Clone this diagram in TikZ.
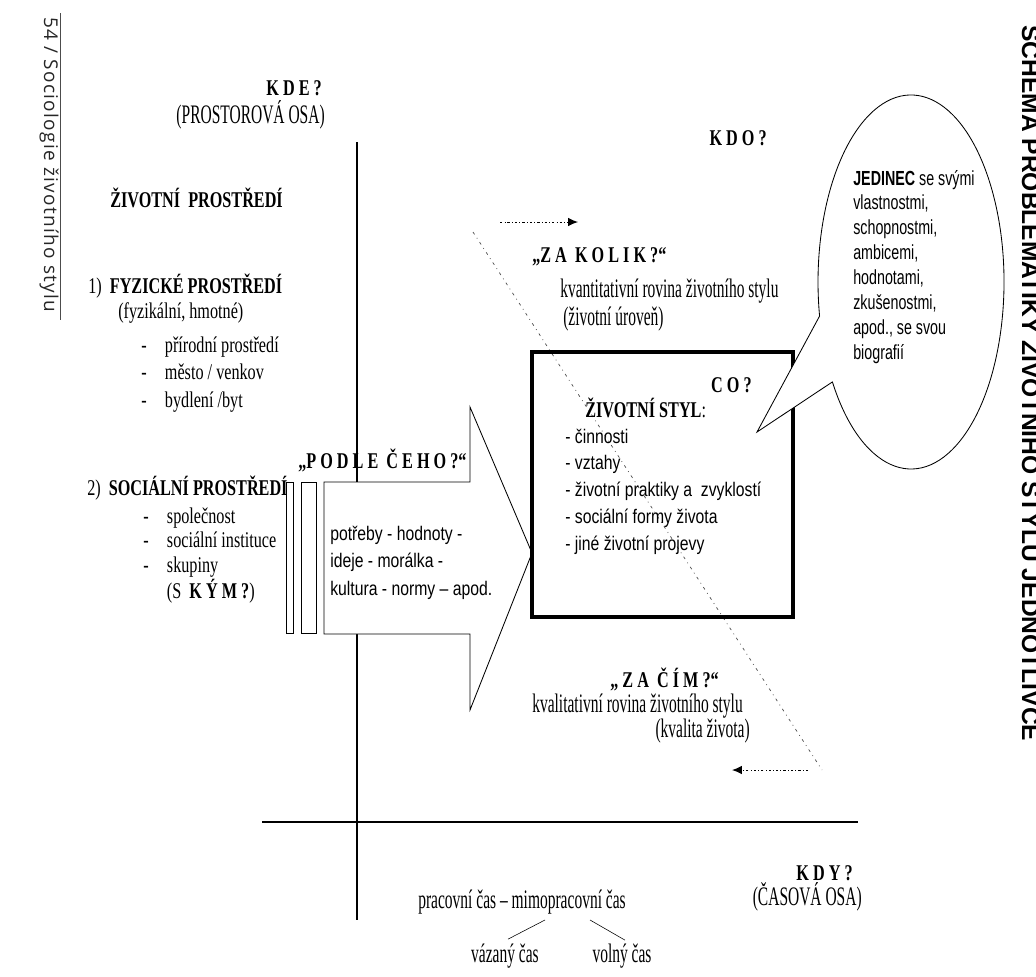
\documentclass[tikz,border=0pt]{standalone}
\usepackage{fontspec}
\setmainfont{Liberation Serif}[FakeStretch=0.72]
\newfontfamily\slimserif{Liberation Serif}[FakeStretch=0.58]
\setsansfont{Liberation Sans}[FakeStretch=0.8]
\newfontfamily\slimsans{Liberation Sans}[FakeStretch=0.7]
\newfontfamily\runfont{Open Sans}[LetterSpace=7]
\newfontfamily\chartfont{Liberation Sans}
\usetikzlibrary{arrows.meta,calc}

\tikzset{
  lbl/.style={font=\fontsize{16}{19.8}\selectfont, inner sep=0pt, anchor=base west},
  lblb/.style={lbl, font=\fontsize{16}{19.8}\selectfont\bfseries},
  slim/.style={lbl, font=\slimserif\fontsize{19}{22}\selectfont},
  itemf/.style={font=\sffamily\fontsize{14}{19.1}\selectfont, inner sep=0pt, anchor=base west},
  trail/.style={gray!60!black, line width=0.5pt, dash pattern=on 2pt off 3pt on 0.6pt off 3pt},
  ray/.style={line width=0.7pt, dash pattern=on 1.6pt off 1.6pt on 0.5pt off 1.6pt, -{Latex[length=7pt,width=6pt]}},
}

\begin{document}
\begin{tikzpicture}[x=0.025cm, y=-0.025cm]
      \useasboundingbox (0,0) rectangle (1036,976);
      \clip (0,0) rectangle (1036,976);

      % okraje stranky
      \node[rotate=-90, anchor=base west, inner sep=0pt, font=\runfont\fontsize{13.5}{16}\selectfont, gray!30!black] (book) at (44,17) {54 / Sociologie životního stylu};
      \draw[gray!60!black, line width=0.6pt] (60,13) -- (60,320);
      \node[rotate=-90, anchor=base west, inner sep=0pt, font=\chartfont\bfseries\fontsize{17.5}{20}\selectfont] (chart) at (1022,25) {SCHÉMA PROBLEMATIKY ŽIVOTNÍHO STYLU JEDNOTLIVCE};

      % osy
      \draw[line width=0.8pt] (357,142) -- (357,920);
      \draw[line width=0.8pt] (262,822) -- (858,822);

      \node[lblb, anchor=base east] (where) at (322,95) {K D E ?};
      \node[slim, anchor=base east] (space) at (325,123) {(PROSTOROVÁ OSA)};
      \node[lblb, anchor=base east] (who) at (767,145) {K D O ?};
      \node[lblb, anchor=base east] (when) at (853,880) {K D Y ?};
      \node[slim, anchor=base east] (time) at (862,905) {(ČASOVÁ OSA)};

      % zivotni prostredi
      \node[lblb] (milieu) at (110,207) {ŽIVOTNÍ\ \ PROSTŘEDÍ};
      \node[lbl] (physical) at (88,293) {1)\ \ \textbf{FYZICKÉ PROSTŘEDÍ}};
      \node[lbl] (matter) at (118,318) {(fyzikální, hmotné)};
      \node[lbl] (places) at (141,352) {
        \begin{tabular}[t]{@{}l@{\hspace{13pt}}l@{}}
          - & přírodní prostředí \\
          - & město / venkov \\
          - & bydlení /byt \\
        \end{tabular}
      };
      \node[lbl] (social) at (87,495) {2)\ \ \textbf{SOCIÁLNÍ PROSTŘEDÍ}};
      \node[lbl, font=\fontsize{16}{17.5}\selectfont] (groups) at (143,523) {
        \begin{tabular}[t]{@{}l@{\hspace{13pt}}l@{}}
          - & společnost \\
          - & sociální instituce \\
          - & skupiny \\
            & (S\ \ \textbf{K Ý M ?}) \\
        \end{tabular}
      };

      % sipka podle ceho
      \draw (286,482) rectangle (293,633);
      \draw (301,482) rectangle (316,633);
      \draw[fill=white, line width=0.6pt] (324,482) -- (470,482) -- (470,407) -- (532,553)
        -- (470,710) -- (470,634) -- (324,634) -- cycle;
      \node[lblb] (according) at (298,468) {„P O D L E\ \ Č E H O ?“};
      \node[itemf, font=\sffamily\fontsize{14}{19.8}\selectfont] (values) at (330,540) {
        \begin{tabular}[t]{@{}l@{}}
          potřeby - hodnoty - \\
          ideje - morálka - \\
          kultura - normy – apod. \\
        \end{tabular}
      };

      % za kolik / za cim
      \draw[ray] (500,222) -- (578,222);
      \draw[trail] (473,232) -- (822,770);
      \draw[ray] (808,770) -- (732,770);

      \node[lblb] (howmuch) at (532,262) {„Z A\ \ K O L I K ?“};
      \node[slim] (quantity) at (560,297) {kvantitativní rovina životního stylu};
      \node[slim] (standard) at (563,325) {(životní úroveň)};
      \node[lblb] (forwhat) at (610,687) {„ Z A\ \ Č Í M ?“};
      \node[slim] (quality) at (532,712) {kvalitativní rovina životního stylu};
      \node[slim, anchor=base east] (wellbeing) at (750,737) {(kvalita života)};

      % zivotni styl
      \draw[line width=3.5pt] (532,352) rectangle (793,617);
      \node[lblb, anchor=base east] (what) at (752,392) {C O ?};
      \node[lblb] (lifestyle) at (585,417) {ŽIVOTNÍ STYL\textmd{:}};
      \node[itemf] (practices) at (565,443) {
        \begin{tabular}[t]{@{}l@{}}
          - činnosti \\
          - vztahy \\
          - životní praktiky a\ \ zvyklostí \\
          - sociální formy života \\
          - jiné životní projevy \\
        \end{tabular}
      };

      % bublina jedinec
      \draw[fill=white, line width=0.6pt] (757,432) -- (832.4,381.9)
        arc[start angle=147.7, end angle=-190.5, x radius=93, y radius=187] -- cycle;
      \node[itemf, font=\slimsans\fontsize{14.5}{17.7}\selectfont] (person) at (853,185) {
        \begin{tabular}[t]{@{}l@{}}
          \textbf{JEDINEC} se svými \\
          vlastnostmi, \\
          schopnostmi, \\
          ambicemi, \\
          hodnotami, \\
          zkušenostmi, \\
          apod., se svou \\
          biografií \\
        \end{tabular}
      };

      % cas
      \node[slim, anchor=base] (worktime) at (522,908) {pracovní čas – mimopracovní čas};
      \node[slim, anchor=base] (boundtime) at (505,962) {vázaný čas};
      \node[slim, anchor=base] (freetime) at (622,962) {volný čas};
      \draw ($(worktime.south)+(23,6)$) -- ($(boundtime.north)+(3,-4)$);
      \draw ($(worktime.south)+(68,6)$) -- ($(freetime.north)+(3,-3)$);
\end{tikzpicture}
\end{document}
